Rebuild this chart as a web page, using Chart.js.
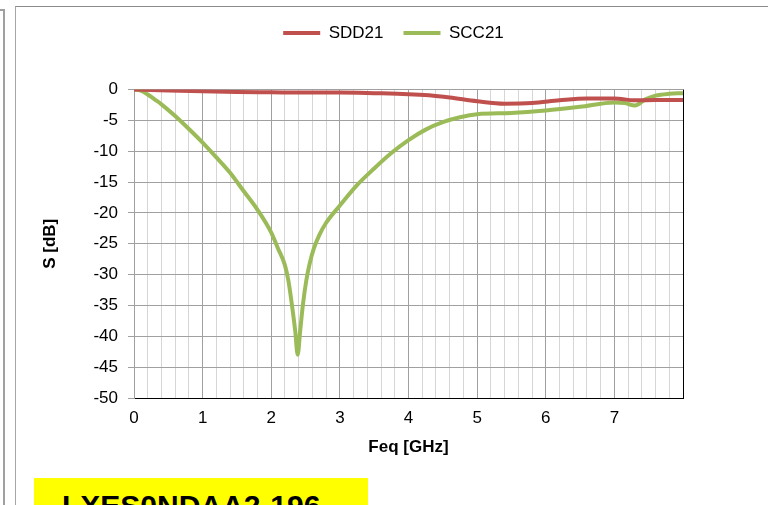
<!DOCTYPE html>
<html>
<head>
<meta charset="utf-8">
<script src="https://cdn.jsdelivr.net/npm/chart.js@4.4.1/dist/chart.umd.min.js"></script>
<style>
  html, body { margin: 0; padding: 0; background: #fff; }
  body { width: 768px; height: 505px; position: relative; overflow: hidden; font-family: "Liberation Sans", Arial, sans-serif; }
  .side-frame { position: absolute; left: -10px; top: 9px; width: 13px; height: 600px; border-top: 2px solid #a0a0a0; border-right: 2px solid #a0a0a0; }
  .chart-frame { position: absolute; left: 15px; top: 6px; width: 800px; height: 600px; border-top: 1px solid #8c8c8c; border-left: 1px solid #a6a6a6; }
  #chart { position: absolute; left: 0; top: 0; }
  .part-label { position: absolute; left: 34px; top: 478px; width: 334px; height: 40px; background: #ffff00; overflow: hidden; }
  .part-label span { position: absolute; left: 28px; top: 13px; font-size: 30px; line-height: 1; font-weight: bold; color: #000; white-space: nowrap; }
</style>
</head>
<body>
<div class="side-frame"></div>
<div class="chart-frame"></div>
<canvas id="chart" width="768" height="505"></canvas>
<div class="part-label"><span>LXES0NDAA2-196</span></div>
<script>
// S-parameter curves (frequency in GHz, level in dB)
const sddFreq = [0, 0.5, 1, 1.5, 2, 2.5, 3, 3.5, 4, 4.3, 4.6, 5.0, 5.4, 5.8, 6.2, 6.6, 7.0, 7.3, 7.6, 8.0];
const sddValues = [0, -0.15, -0.3, -0.4, -0.45, -0.5, -0.5, -0.6, -0.75, -0.95, -1.3, -1.9, -2.3, -2.2, -1.75, -1.45, -1.45, -1.75, -1.7, -1.7];

const sccFreq = [0, 0.1, 0.2, 0.3, 0.4, 0.6, 0.8, 1.0, 1.2, 1.4, 1.6, 1.8, 2.0, 2.1, 2.2, 2.25, 2.3, 2.35, 2.385, 2.42, 2.46, 2.51, 2.56, 2.62, 2.7, 2.8, 3.0, 3.25, 3.5, 3.75, 4.0, 4.25, 4.5, 4.75, 5.0, 5.5, 6.0, 6.5, 7.0, 7.15, 7.3, 7.45, 7.6, 7.8, 8.0];
const sccValues = [0, -0.2, -0.8, -1.6, -2.4, -4.3, -6.4, -8.6, -11, -13.5, -16.5, -19.5, -23.2, -25.8, -28.5, -31, -34.8, -39.2, -43, -39.3, -35, -31, -28.2, -25.8, -23.6, -21.6, -18.8, -15.5, -12.8, -10.3, -8.2, -6.5, -5.3, -4.5, -4.0, -3.8, -3.4, -2.8, -2.1, -2.2, -2.6, -1.6, -1.0, -0.7, -0.6];

const seriesNames = ['SDD21', 'SCC21'];
const xTickLabels = ['0', '1', '2', '3', '4', '5', '6', '7'];
const xTitle = 'Feq [GHz]';
const yTitle = 'S [dB]';

const X_MAX = 8;
const MINOR_PER_GHZ = 5; // light gridline every 0.2 GHz

const toPoints = (xs, ys) => xs.map((x, i) => ({ x: x, y: ys[i] }));

// leaves room between the legend and the plot area, and nudges the legend left
const legendGap = {
    id: 'legendGap',
    beforeLayout(chart) {
        const legend = chart.legend;
        if (legend && !legend.gapPatched) {
            const fit = legend.fit;
            legend.fit = function () {
                fit.call(this);
                this.height += 38;
            };
            legend.gapPatched = true;
        }
    },
    afterLayout(chart) {
        if (chart.legend) {
            chart.legend.left -= 15;
            chart.legend.right -= 15;
        }
    }
};

const isWhole = v => Math.abs(v - Math.round(v)) < 1e-6;

new Chart(document.getElementById('chart').getContext('2d'), {
    type: 'line',
    data: {
        datasets: [
            {
                label: seriesNames[0],
                data: toPoints(sddFreq, sddValues),
                borderColor: '#c0504d',
                backgroundColor: '#c0504d',
                borderWidth: 4,
                pointRadius: 0,
                cubicInterpolationMode: 'monotone'
            },
            {
                label: seriesNames[1],
                data: toPoints(sccFreq, sccValues),
                borderColor: '#9bbb59',
                backgroundColor: '#9bbb59',
                borderWidth: 4,
                pointRadius: 0,
                cubicInterpolationMode: 'monotone'
            }
        ]
    },
    options: {
        responsive: false,
        animation: false,
        layout: { padding: { left: 38, right: 85, top: 4.5, bottom: 43 } },
        font: { family: '"Liberation Sans", Arial, sans-serif' },
        scales: {
            x: {
                type: 'linear',
                min: 0,
                max: X_MAX,
                afterFit(scale) { scale.height = 64; },
                afterBuildTicks(scale) {
                    const ticks = [];
                    for (let i = 0; i <= X_MAX * MINOR_PER_GHZ; i++) {
                        ticks.push({ value: i / MINOR_PER_GHZ });
                    }
                    scale.ticks = ticks;
                },
                ticks: {
                    autoSkip: false,
                    maxRotation: 0,
                    padding: 10,
                    color: '#000',
                    font: { size: 17 },
                    callback: v => (isWhole(v) && Math.round(v) < xTickLabels.length) ? xTickLabels[Math.round(v)] : ''
                },
                grid: {
                    drawTicks: false,
                    color: ctx => {
                        const v = ctx.tick ? ctx.tick.value : 0;
                        if (Math.abs(v - X_MAX) < 1e-6) return '#000';
                        return isWhole(v) ? '#a0a0a0' : '#d6d6d6';
                    }
                },
                border: { color: '#000' },
                title: {
                    display: true,
                    text: xTitle,
                    color: '#000',
                    font: { size: 17, weight: 'bold' },
                    padding: { top: 0, bottom: 4 }
                }
            },
            y: {
                min: -50,
                max: 0,
                afterFit(scale) { scale.width = 96; },
                ticks: {
                    stepSize: 5,
                    padding: 10,
                    color: '#000',
                    font: { size: 17 }
                },
                grid: { color: '#a0a0a0', tickLength: 6 },
                border: { color: '#a0a0a0' },
                title: {
                    display: true,
                    text: yTitle,
                    color: '#000',
                    font: { size: 17, weight: 'bold' },
                    padding: { top: 2, bottom: 0 }
                }
            }
        },
        plugins: {
            tooltip: { enabled: false },
            legend: {
                position: 'top',
                fullSize: false,
                labels: {
                    color: '#000',
                    font: { size: 17 },
                    boxWidth: 37,
                    boxHeight: 4,
                    padding: 20,
                    generateLabels: chart => Chart.defaults.plugins.legend.labels.generateLabels(chart).map(item => ({
                        ...item,
                        lineWidth: 0,
                        fillStyle: item.strokeStyle
                    }))
                }
            }
        }
    },
    plugins: [legendGap]
});
</script>
</body>
</html>
